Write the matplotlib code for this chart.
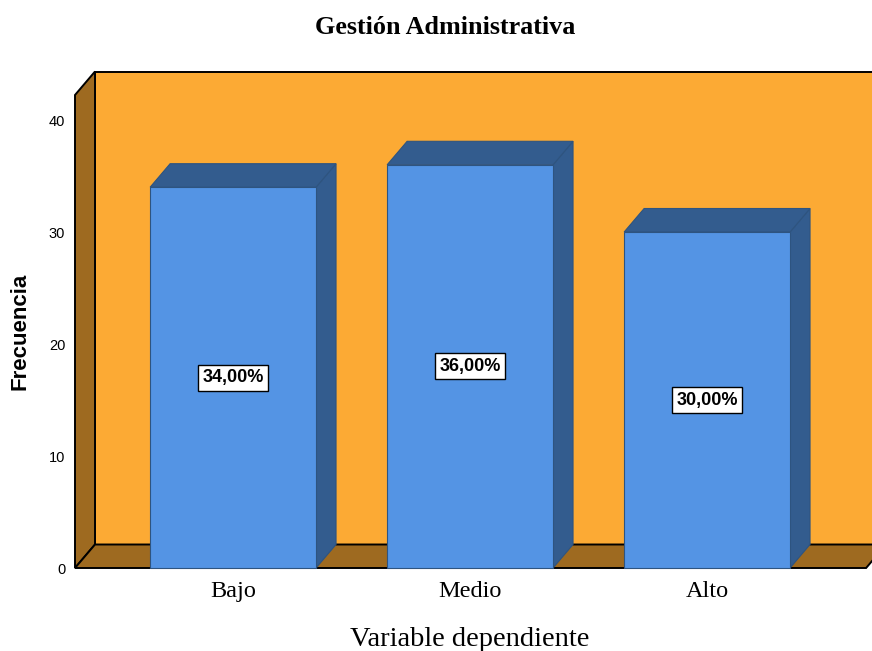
import matplotlib
matplotlib.use("Agg")
import matplotlib.pyplot as plt
from matplotlib.patches import Polygon, Rectangle

# Data
categories = ["Bajo", "Medio", "Alto"]
frequencies = [34, 36, 30]
percent_labels = ["34,00%", "36,00%", "30,00%"]
y_ticks = [0, 10, 20, 30, 40]

# Styling
WALL = "#FCAA34"
FLOOR = "#9E6A20"
BAR_FRONT = "#5494E4"
BAR_SHADE = "#335C8E"
BAR_EDGE = "#2E5480"

PX_PER_UNIT = 11.2
PX_PER_CAT = 237

fig = plt.figure(figsize=(8.72, 6.51), dpi=100)
ax = fig.add_axes([75 / 872, (651 - 568) / 651, (872 - 75) / 872, (568 - 72) / 651])

# box extents in data units
x_left = -0.667
x_right = 2.671
y_top = (568 - 95) / PX_PER_UNIT
dx, dy = 20 / PX_PER_CAT, 23.5 / PX_PER_UNIT   # depth offset of the 3D box
half_w = 0.35

ax.set_xlim(x_left, x_left + (872 - 75) / PX_PER_CAT)
ax.set_ylim(0, (568 - 72) / PX_PER_UNIT)

def poly(pts, fc, ec, lw, z):
    ax.add_patch(Polygon(pts, closed=True, facecolor=fc, edgecolor=ec,
                         linewidth=lw, zorder=z, clip_on=False, joinstyle="miter"))

# back wall
poly([(x_left + dx, dy), (x_right + dx + 0.2, dy), (x_right + dx + 0.2, y_top + dy),
      (x_left + dx, y_top + dy)], WALL, "black", 1.4, 1)
# left side wall
poly([(x_left, 0), (x_left + dx, dy), (x_left + dx, y_top + dy), (x_left, y_top)],
     FLOOR, "black", 1.4, 2)
# floor
poly([(x_left, 0), (x_right, 0), (x_right + dx, dy), (x_left + dx, dy)],
     FLOOR, "black", 1.4, 2)

# bars
for i, (v, lab) in enumerate(zip(frequencies, percent_labels)):
    x0, x1 = i - half_w, i + half_w
    poly([(x1, 0), (x1 + dx, dy), (x1 + dx, v + dy), (x1, v)], BAR_SHADE, BAR_EDGE, 0.8, 3)
    poly([(x0, v), (x1, v), (x1 + dx, v + dy), (x0 + dx, v + dy)], BAR_SHADE, BAR_EDGE, 0.8, 3)
    ax.add_patch(Rectangle((x0, 0), x1 - x0, v, facecolor=BAR_FRONT, edgecolor=BAR_EDGE,
                           linewidth=0.8, zorder=4, clip_on=False))
    ax.text(i, v / 2, lab, ha="center", va="center", fontsize=13, fontweight="bold",
            family="Liberation Sans", zorder=6,
            bbox=dict(boxstyle="square,pad=0.25", facecolor="white", edgecolor="black",
                      linewidth=1.0))

for s in ax.spines.values():
    s.set_visible(False)
ax.set_xticks(range(len(categories)))
ax.set_xticklabels(categories, family="Liberation Serif", fontsize=17.5)
ax.set_yticks(y_ticks)
ax.set_yticklabels([str(t) for t in y_ticks], family="Liberation Sans", fontsize=10.5,
                   va="top")
ax.tick_params(axis="both", length=0)
ax.tick_params(axis="x", pad=9.5)
ax.tick_params(axis="y", pad=7)
for t in ax.get_yticklabels():
    t.set_va("center_baseline")

ax.set_xlabel("Variable dependiente", family="Liberation Serif", fontsize=20.5)
ax.xaxis.set_label_coords((470 - 75) / (872 - 75), -(639 - 568) / (568 - 72))
ax.xaxis.label.set_va("center")
ax.set_ylabel("Frecuencia", family="Liberation Sans", fontsize=16, fontweight="bold")
ax.yaxis.set_label_coords(-(75 - 20) / (872 - 75), (568 - 331) / (568 - 72))
ax.yaxis.label.set_va("center")

fig.text(445.5 / 872, 1 - 28 / 651, "Gestión Administrativa", ha="center", va="center",
         family="Liberation Serif", fontsize=18.8, fontweight="bold")

fig.savefig("out.png", dpi=100, facecolor="white")
